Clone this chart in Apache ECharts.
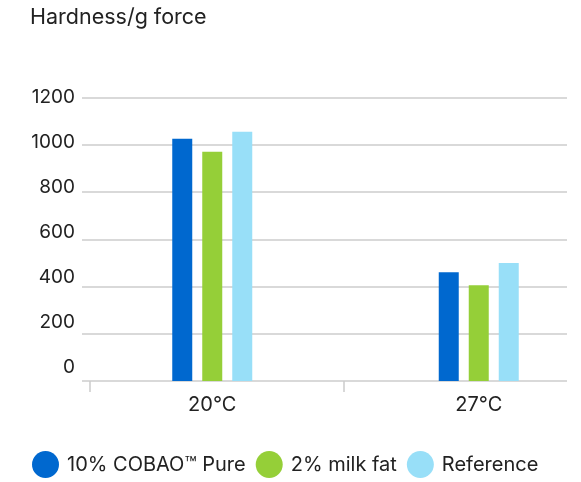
<!DOCTYPE html>
<html>
<head>
<meta charset="utf-8">
<script src="https://cdn.jsdelivr.net/npm/echarts@6/dist/echarts.min.js"></script>
<style>
  html, body { margin: 0; padding: 0; background: #fff; }
  #chart { width: 581px; height: 482px; }
</style>
</head>
<body>
<div id="chart"></div>
<script>
// Hardness (g force) measured at two temperatures
const categories = ['20°C', '27°C'];
const seriesNames = ['10% COBAO™ Pure', '2% milk fat', 'Reference'];
const cobaoPure = [1025, 460];
const milkFat = [970, 405];
const referenceFat = [1055, 500];
const yMin = 0;
const yMax = 1200;
const yStep = 200;

const FONT = 'Inter, "Noto Sans", sans-serif';
const TEXT = '#222222';
const GRID_LINE = '#cccccc';
const colors = ['#0068cf', '#95cf38', '#98dff8'];

const chart = echarts.init(document.getElementById('chart'), null, { renderer: 'canvas' });

const plotTop = 97.5;
const plotHeight = 283.5;

const option = {
  animation: false,
  textStyle: { fontFamily: FONT },
  title: {
    text: 'Hardness/g force',
    left: 30,
    top: 7,
    padding: 0,
    textStyle: { fontFamily: FONT, fontSize: 21.5, fontWeight: 'normal', color: TEXT }
  },
  legend: {
    data: seriesNames,
    left: 32,
    top: 451,
    padding: 0,
    icon: 'circle',
    itemWidth: 27,
    itemHeight: 27,
    itemGap: 10,
    textStyle: { fontFamily: FONT, fontSize: 20, color: TEXT, padding: [0, 0, 0, 3] }
  },
  grid: [
    // value labels
    { left: 77, width: 10, top: 97, height: 270, outerBoundsMode: 'none', containLabel: false },
    // horizontal grid lines and baseline
    { left: 82, right: 14, top: plotTop, height: plotHeight, outerBoundsMode: 'none', containLabel: false },
    // bars and category labels
    { left: 79, width: 533, top: plotTop, height: plotHeight, outerBoundsMode: 'none', containLabel: false },
    // category ticks
    { left: 90, width: 508, top: plotTop, height: plotHeight, outerBoundsMode: 'none', containLabel: false }
  ],
  xAxis: [
    { gridIndex: 0, type: 'category', data: categories, show: false },
    { gridIndex: 1, type: 'category', data: categories, show: false },
    {
      gridIndex: 2, type: 'category', data: categories,
      axisLine: { show: false }, axisTick: { show: false },
      axisLabel: { fontFamily: FONT, fontSize: 20, color: TEXT, margin: 14 }
    },
    {
      gridIndex: 3, type: 'category', data: categories,
      axisLine: { show: false },
      axisTick: { show: true, length: 11, lineStyle: { color: GRID_LINE, width: 1.5 } },
      axisLabel: { show: false }
    }
  ],
  yAxis: [
    {
      gridIndex: 0, type: 'value', min: yMin, max: yMax, interval: yStep,
      axisLine: { show: false }, axisTick: { show: false }, splitLine: { show: false },
      axisLabel: { fontFamily: FONT, fontSize: 19, color: TEXT, margin: 2, formatter: v => String(v) }
    },
    {
      gridIndex: 1, type: 'value', min: yMin, max: yMax, interval: yStep,
      axisLine: { show: false }, axisTick: { show: false }, axisLabel: { show: false },
      splitLine: { show: true, lineStyle: { color: GRID_LINE, width: 1.5 } }
    },
    { gridIndex: 2, type: 'value', min: yMin, max: yMax, show: false, splitLine: { show: false } },
    { gridIndex: 3, type: 'value', min: yMin, max: yMax, show: false, splitLine: { show: false } }
  ],
  series: [
    { name: seriesNames[0], data: cobaoPure, color: colors[0] },
    { name: seriesNames[1], data: milkFat, color: colors[1] },
    { name: seriesNames[2], data: referenceFat, color: colors[2] }
  ].map(s => ({
    type: 'bar',
    name: s.name,
    data: s.data,
    xAxisIndex: 2,
    yAxisIndex: 2,
    barWidth: 20,
    barGap: '50%',
    itemStyle: { color: s.color }
  }))
};

chart.setOption(option);
</script>
</body>
</html>
